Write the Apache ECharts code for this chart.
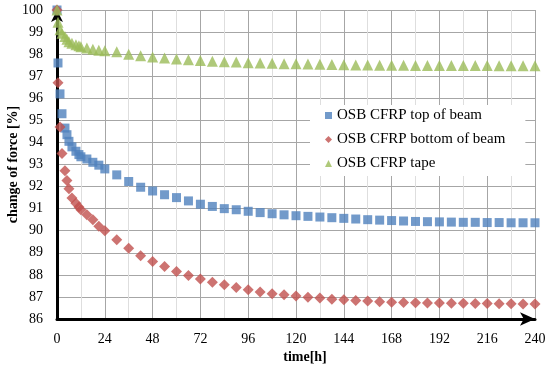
<!DOCTYPE html>
<html>
<head>
<meta charset="utf-8">
<script src="https://cdn.jsdelivr.net/npm/echarts@6/dist/echarts.min.js"></script>
<style>html,body{margin:0;padding:0;background:#fff}#c{width:550px;height:368px}</style>
</head>
<body>
<div id="c"></div>
<script>
var timeH = [0, 0.5, 1.5, 2.5, 4, 5, 6, 7.5, 9.5, 11, 12, 15, 18, 21, 24,
  30, 36, 42, 48, 54, 60, 66, 72, 78, 84, 90, 96, 102, 108, 114, 120, 126, 132, 138, 144,
  150, 156, 162, 168, 174, 180, 186, 192, 198, 204, 210, 216, 222, 228, 234, 240];
var topOfBeam = [100, 97.6, 96.2, 95.3, 94.65, 94.35, 94.05, 93.8, 93.6, 93.45, 93.35, 93.25, 93.1, 92.97, 92.8,
  92.53, 92.23, 91.97, 91.8, 91.63, 91.5, 91.35, 91.2, 91.1, 91.0, 90.95, 90.88, 90.82, 90.77, 90.72, 90.68, 90.65, 90.62, 90.59, 90.56,
  90.53, 90.5, 90.48, 90.46, 90.44, 90.42, 90.41, 90.4, 90.39, 90.38, 90.38, 90.37, 90.37, 90.36, 90.36, 90.36];
var bottomOfBeam = [100, 96.7, 94.7, 93.5, 92.72, 92.27, 91.9, 91.48, 91.25, 91.07, 90.95, 90.72, 90.5, 90.2, 90.0,
  89.59, 89.2, 88.87, 88.6, 88.38, 88.15, 87.97, 87.81, 87.67, 87.55, 87.43, 87.32, 87.22, 87.14, 87.1, 87.04, 86.99, 86.95, 86.9, 86.87,
  86.84, 86.81, 86.78, 86.76, 86.75, 86.74, 86.73, 86.72, 86.71, 86.71, 86.7, 86.7, 86.69, 86.69, 86.68, 86.68];
var tape = [100, 99.45, 99.1, 98.95, 98.8, 98.67, 98.56, 98.49, 98.43, 98.38, 98.33, 98.28, 98.22, 98.18, 98.15,
  98.11, 98.0, 97.93, 97.87, 97.82, 97.78, 97.75, 97.71, 97.68, 97.66, 97.64, 97.61, 97.6, 97.59, 97.57, 97.56, 97.55, 97.54, 97.53, 97.52,
  97.51, 97.51, 97.5, 97.5, 97.5, 97.49, 97.49, 97.49, 97.48, 97.48, 97.48, 97.48, 97.47, 97.47, 97.47, 97.47];
var seriesNames = ['OSB CFRP top of beam', 'OSB CFRP bottom of beam', 'OSB CFRP tape'];
var xAxisName = 'time[h]';
var yAxisName = 'change of force [%]';

function pairs(ys) { return timeH.map(function (t, i) { return [t, ys[i]]; }); }
var FONT = '"Liberation Serif", "DejaVu Serif", serif';

var chart = echarts.init(document.getElementById('c'), null, {renderer: 'canvas'});
chart.setOption({
  animation: false,
  backgroundColor: '#fff',
  textStyle: {fontFamily: FONT},
  grid: {left: 57, right: 15, top: 10, bottom: 49, containLabel: false, outerBoundsMode: 'none'},
  xAxis: {
    type: 'value', min: 0, max: 240, interval: 24,
    name: xAxisName, nameLocation: 'middle', nameGap: 31, nameMoveOverlap: false,
    nameTextStyle: {fontFamily: FONT, fontWeight: 'bold', fontSize: 14, color: '#000', padding: [0, 0, 0, 18]},
    axisLine: {show: true, onZero: false, lineStyle: {color: '#000', width: 3}, symbol: ['none', 'arrow'], symbolSize: [10, 15]},
    axisTick: {show: false},
    minorTick: {show: false, splitNumber: 2},
    axisLabel: {fontFamily: FONT, fontSize: 14, color: '#000', margin: 13},
    splitLine: {show: true, lineStyle: {color: '#a6a6a6', width: 1}},
    minorSplitLine: {show: true, lineStyle: {color: '#dedede', width: 1}}
  },
  yAxis: {
    type: 'value', min: 86, max: 100, interval: 1,
    name: yAxisName, nameLocation: 'middle', nameGap: 37, nameRotate: 90, nameMoveOverlap: false,
    nameTextStyle: {fontFamily: FONT, fontWeight: 'bold', fontSize: 14, color: '#000'},
    axisLine: {show: true, onZero: false, lineStyle: {color: '#000', width: 3}, symbol: ['none', 'arrow'], symbolSize: [9, 12]},
    axisTick: {show: false},
    axisLabel: {fontFamily: FONT, fontSize: 14, color: '#000', margin: 14},
    splitLine: {show: true, lineStyle: {color: '#a6a6a6', width: 1}}
  },
  legend: {
    orient: 'vertical', left: 310, top: 105,
    padding: [3, 20, 5, 15],
    backgroundColor: '#fff',
    itemWidth: 7, itemHeight: 7, itemGap: 9,
    textStyle: {fontFamily: FONT, fontSize: 15, color: '#000', lineHeight: 14},
    data: [
      {name: seriesNames[0], icon: 'rect'},
      {name: seriesNames[1], icon: 'diamond'},
      {name: seriesNames[2], icon: 'triangle'}
    ]
  },
  series: [
    {name: seriesNames[0], type: 'scatter', symbol: 'rect', symbolSize: 9, itemStyle: {color: '#4F81BD'}, data: pairs(topOfBeam)},
    {name: seriesNames[1], type: 'scatter', symbol: 'diamond', symbolSize: 11, itemStyle: {color: '#C0504D'}, data: pairs(bottomOfBeam)},
    {name: seriesNames[2], type: 'scatter', symbol: 'triangle', symbolSize: 11, itemStyle: {color: '#9BBB59'}, data: pairs(tape)}
  ]
});
</script>
</body>
</html>
